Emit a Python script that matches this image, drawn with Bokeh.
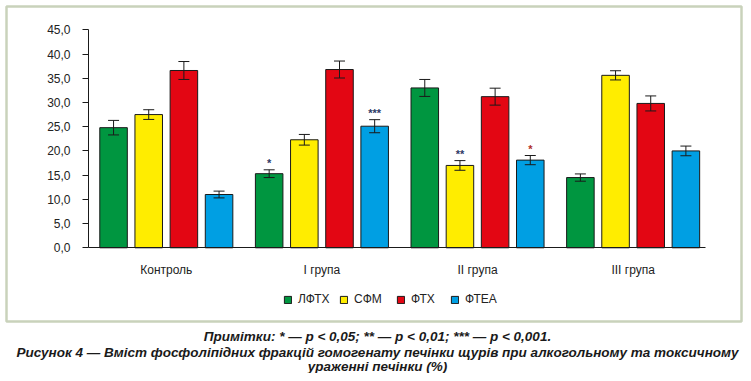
from bokeh.plotting import figure
from bokeh.models import (ColumnDataSource, Whisker, TeeHead, FixedTicker, Label,
                          Legend, LegendItem, BoxAnnotation, Range1d)
from bokeh.embed import file_html
from bokeh.resources import INLINE
from bokeh.core.properties import value

groups = ["Контроль", "І група", "ІІ група", "ІІІ група"]
series = ["ЛФТХ", "СФМ", "ФТХ", "ФТЕА"]
lftx = [24.8, 15.3, 33.0, 14.5]
sfm = [27.5, 22.3, 17.0, 35.6]
ftx = [36.6, 36.8, 31.2, 29.8]
ftea = [11.0, 25.1, 18.1, 20.0]
lftx_err = [1.5, 0.8, 1.75, 0.75]
sfm_err = [1.0, 1.1, 1.0, 0.95]
ftx_err = [1.85, 1.75, 1.75, 1.55]
ftea_err = [0.7, 1.35, 0.95, 1.0]
# significance marks (per series, per group)
lftx_sig = ["", "*", "", ""]
sfm_sig = ["", "", "**", ""]
ftx_sig = ["", "", "", ""]
ftea_sig = ["", "***", "*", ""]
y_ticks = [0, 5, 10, 15, 20, 25, 30, 35, 40, 45]
y_tick_labels = ["0,0", "5,0", "10,0", "15,0", "20,0", "25,0", "30,0", "35,0", "40,0", "45,0"]
notes = "Примітки: * — p < 0,05; ** — p < 0,01; *** — p < 0,001."
title1 = "Рисунок 4 — Вміст фосфоліпідних фракцій гомогенату печінки щурів при алкогольному та токсичному"
title2 = "ураженні печінки (%)"

colors = ["#009640", "#FFED00", "#E30613", "#009FE3"]
DARK_STAR, RED_STAR = "#2E3A66", "#B0302A"
sig_colors = [
    [DARK_STAR] * 4,
    [DARK_STAR] * 4,
    [DARK_STAR] * 4,
    [DARK_STAR, DARK_STAR, RED_STAR, DARK_STAR],
]
vals = [lftx, sfm, ftx, ftea]
errs = [lftx_err, sfm_err, ftx_err, ftea_err]
sigs = [lftx_sig, sfm_sig, ftx_sig, ftea_sig]
offsets = [-0.339, -0.113, 0.113, 0.339]
centers = [0.5, 1.5, 2.5, 3.5]
X_MAX = 3.965
Y_MAX = 45

FONT = "Liberation Sans"
W, H = 743, 373
# pixel mapping of the data area (x: 0..X_MAX -> 88..705 px, y: 0..45 -> 247.3..29.3 px)
px_x0, px_x1, px_y0, px_y1 = 88.0, 705.0, 247.3, 29.3
sx = (px_x1 - px_x0) / X_MAX
sy = (px_y0 - px_y1) / Y_MAX
x_start, x_end = -px_x0 / sx, (W - px_x0) / sx
y_end, y_start = px_y0 / sy, (px_y0 - H) / sy

def dx(px):
    return (px - px_x0) / sx

def dy(py):
    return (px_y0 - py) / sy

p = figure(width=W, height=H, output_backend="svg", toolbar_location=None,
           x_range=Range1d(x_start, x_end), y_range=Range1d(y_start, y_end),
           min_border=0, min_border_left=0, min_border_right=0,
           min_border_top=0, min_border_bottom=0)
p.outline_line_color = None
p.xgrid.visible = False
p.ygrid.visible = False
p.background_fill_color = "white"
p.border_fill_color = "white"

renderers = []
for i in range(4):
    xs = [c + offsets[i] for c in centers]
    src = ColumnDataSource(dict(x=xs, top=vals[i],
                                upper=[v + e for v, e in zip(vals[i], errs[i])],
                                lower=[v - e for v, e in zip(vals[i], errs[i])],
                                sig=sigs[i], sig_color=sig_colors[i]))
    r = p.vbar(x="x", top="top", width=0.177, bottom=0, source=src,
               fill_color=colors[i], line_color="#1a1a1a", line_width=1)
    renderers.append(r)
    w = Whisker(base="x", upper="upper", lower="lower", source=src, level="overlay",
                line_color="#1a1a1a", line_width=1,
                upper_head=TeeHead(size=11, line_color="#1a1a1a", line_width=1),
                lower_head=TeeHead(size=11, line_color="#1a1a1a", line_width=1))
    p.add_layout(w)
    p.text(x="x", y="upper", text="sig", source=src, text_align="center",
           text_baseline="alphabetic", y_offset=-7, text_font=value(FONT),
           text_font_size="11px", text_font_style="bold", text_color="sig_color")

# axes (drawn at data zero, restricted to the data area)
p.yaxis.fixed_location = 0
p.yaxis.bounds = (0, Y_MAX)
p.yaxis.ticker = FixedTicker(ticks=y_ticks)
p.yaxis.major_label_overrides = {t: l for t, l in zip(y_ticks, y_tick_labels)}
p.yaxis.minor_tick_line_color = None
p.yaxis.major_tick_in = 0
p.yaxis.major_tick_out = 6
p.yaxis.major_label_standoff = 12
p.yaxis.axis_line_color = "#1a1a1a"
p.yaxis.major_tick_line_color = "#1a1a1a"
p.yaxis.major_label_text_font = FONT
p.yaxis.major_label_text_font_size = "12px"
p.yaxis.major_label_text_color = "#222222"

p.xaxis.fixed_location = 0
p.xaxis.bounds = (0, X_MAX)
p.xaxis.ticker = FixedTicker(ticks=centers)
p.xaxis.major_label_overrides = {c: g for c, g in zip(centers, groups)}
p.xaxis.minor_tick_line_color = None
p.xaxis.major_tick_line_color = None
p.xaxis.major_tick_in = 0
p.xaxis.major_tick_out = 0
p.xaxis.major_label_standoff = 15
p.xaxis.axis_line_color = "#1a1a1a"
p.xaxis.major_label_text_font = FONT
p.xaxis.major_label_text_font_size = "12px"
p.xaxis.major_label_text_color = "#222222"

# legends: one item each for exact placement
leg_x = [283, 339, 396, 450]
for i in range(4):
    lg = Legend(items=[LegendItem(label=series[i], renderers=[renderers[i]])],
                location=(leg_x[i], 67), orientation="horizontal",
                glyph_width=9, glyph_height=9, label_height=9, label_standoff=6,
                padding=0, margin=0, spacing=0, border_line_color=None,
                background_fill_alpha=0, label_text_font=FONT,
                label_text_font_size="12px", label_text_color="#222222")
    p.add_layout(lg, "center")

# frame around chart
p.add_layout(BoxAnnotation(left=dx(6), right=dx(741), top=dy(6), bottom=dy(321),
                           fill_alpha=0, line_color="#4D6B1F", line_width=2.5))

# captions
for txt, py in [(notes, 336), (title1, 352), (title2, 366)]:
    p.add_layout(Label(x=dx(377), y=dy(py), text=txt, text_align="center", text_baseline="middle",
                       text_font=FONT, text_font_size="13.5px", text_font_style="bold italic",
                       text_color="#1a1a1a"))

open("out.html", "w").write(file_html(p, INLINE))
